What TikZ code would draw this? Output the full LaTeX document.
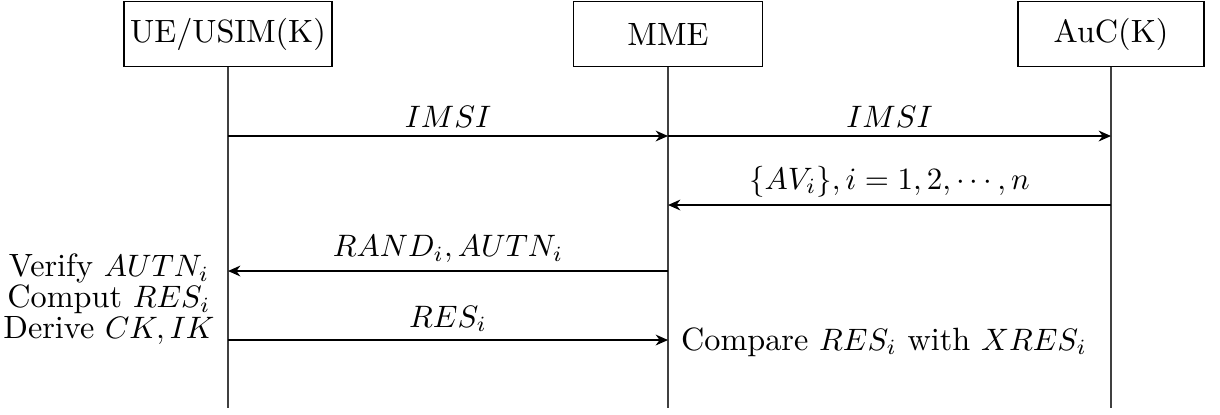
\documentclass[tikz,border=0pt]{standalone}
\usetikzlibrary{arrows.meta}
\begin{document}
\begin{tikzpicture}[x=0.3227pt,y=-0.3227pt,
  actor/.style={draw,thin,minimum height=21pt,inner sep=2pt,font=\fontsize{10.4}{12.5}\selectfont},
  life/.style={draw=black!75,thin},
  msg/.style={-{Stealth[length=4pt,width=3.5pt]},thin},
  lbl/.style={font=\fontsize{10.4}{12.5}\selectfont,inner sep=1pt}]
\useasboundingbox (0,0) rectangle (1220,414);
\node[actor,minimum width=64pt] (ue) at (228,34) {UE/USIM(K)};
\node[actor,minimum width=61pt] (mme) at (668,34) {MME};
\node[actor,minimum width=60pt] (auc) at (1111,34) {AuC(K)};
\coordinate (ueB) at (228,408);
\coordinate (mmeB) at (668,408);
\coordinate (aucB) at (1111,408);
\draw[life] (ue.south) -- (ueB);
\draw[life] (mme.south) -- (mmeB);
\draw[life] (auc.south) -- (aucB);
% messages
\coordinate (a1) at (228,136); \coordinate (b1) at (668,136);
\coordinate (a2) at (668,136); \coordinate (b2) at (1111,136);
\coordinate (a3) at (1111,205); \coordinate (b3) at (668,205);
\coordinate (a4) at (668,271); \coordinate (b4) at (228,271);
\coordinate (a5) at (228,340); \coordinate (b5) at (668,340);
\draw[msg] (a1) -- node[lbl,above=1.4pt] {$IMSI$} (b1);
\draw[msg] (a2) -- node[lbl,above=1.4pt] {$IMSI$} (b2);
\draw[msg] (a3) -- node[lbl,above=1.4pt] {$\{AV_i\},i=1,2,\cdots,n$} (b3);
\draw[msg] (a4) -- node[lbl,above=1.4pt] {$RAND_i,AUTN_i$} (b4);
\draw[msg] (a5) -- node[lbl,above=1.4pt] {$RES_i$} (b5);
\node[lbl,align=center] (ueact) at (109,299) {Verify $AUTN_i$\\[-2.5pt]Comput $RES_i$\\[-2.5pt]Derive $CK,IK$};
\node[lbl] (mmeact) at (884,342) {Compare $RES_i$ with $XRES_i$};
\end{tikzpicture}
\end{document}
